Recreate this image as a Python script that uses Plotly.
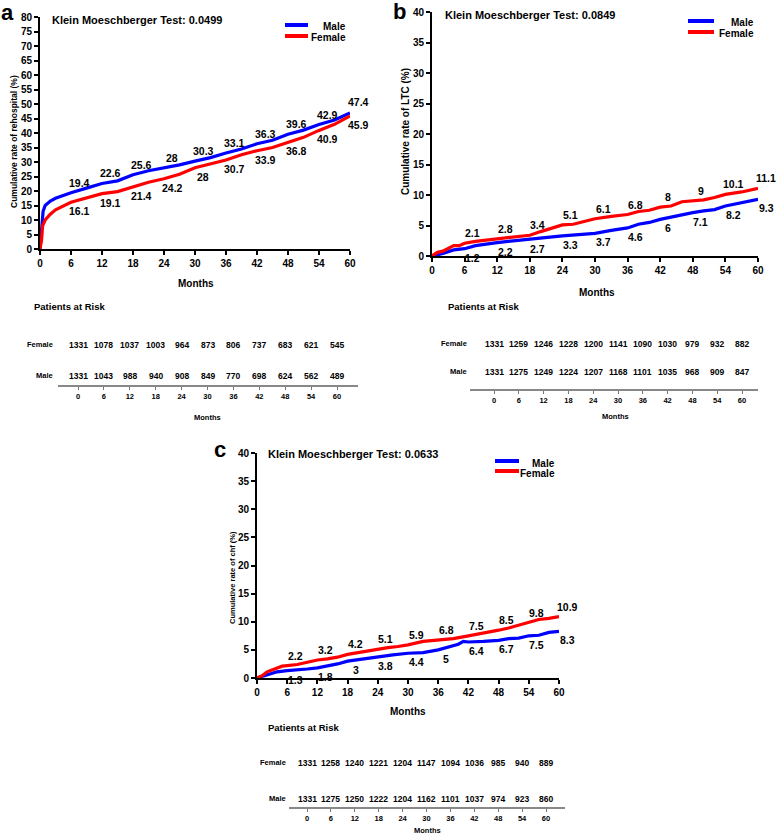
import plotly.graph_objects as go

W, H = 778, 835
BLUE = "#0000FF"
RED = "#FF0000"
FONT = "Liberation Sans"

# ---------------- data ----------------
tick_months = [0, 6, 12, 18, 24, 30, 36, 42, 48, 54, 60]
label_months = [6, 12, 18, 24, 30, 36, 42, 48, 54, 60]

# Panel a: rehospitalisation
a_male_t = [0, 0.3, 0.6, 1, 2, 3, 6, 9, 12, 15, 18, 21, 24, 27, 30, 33, 36, 39, 42, 45, 48, 51, 54, 57, 60]
a_male_y = [0, 8, 13, 15, 16.5, 17.5, 19.4, 21, 22.6, 23.5, 25.6, 27, 28, 29, 30.3, 31.5, 33.1, 34.5, 36.3, 37.5, 39.6, 41, 42.9, 44.5, 46.9]
a_female_t = [0, 0.3, 0.5, 1, 2, 3, 6, 9, 12, 15, 18, 21, 24, 27, 30, 33, 36, 39, 42, 45, 48, 51, 54, 57, 60]
a_female_y = [0, 3, 8, 10, 12, 13.5, 16.1, 17.5, 19.1, 19.8, 21.4, 23, 24.2, 25.8, 28, 29.3, 30.7, 32.5, 33.9, 35, 36.8, 38.5, 40.9, 43, 45.9]
a_male_lbl = [19.4, 22.6, 25.6, 28, 30.3, 33.1, 36.3, 39.6, 42.9, 47.4]
a_female_lbl = [16.1, 19.1, 21.4, 24.2, 28, 30.7, 33.9, 36.8, 40.9, 45.9]
a_risk_female = [1331, 1078, 1037, 1003, 964, 873, 806, 737, 683, 621, 545]
a_risk_male = [1331, 1043, 988, 940, 908, 849, 770, 698, 624, 562, 489]

# Panel b: LTC
b_female_t = [0, 1, 2, 3, 4, 5, 6, 8, 10, 12, 14, 16, 18, 20, 22, 24, 26, 28, 30, 33, 36, 38, 40, 42, 44, 46, 48, 50, 52, 54, 57, 60]
b_female_y = [0, 0.6, 0.8, 1.2, 1.7, 1.7, 2.1, 2.4, 2.6, 2.8, 3.1, 3.2, 3.4, 4.0, 4.5, 5.1, 5.2, 5.7, 6.1, 6.5, 6.8, 7.3, 7.5, 8.0, 8.2, 8.9, 9.0, 9.2, 9.6, 10.1, 10.5, 11.1]
b_male_t = [0, 2, 4, 6, 8, 10, 12, 14, 16, 18, 21, 24, 27, 30, 33, 36, 38, 40, 42, 44, 46, 48, 50, 52, 54, 57, 60]
b_male_y = [0, 0.4, 1.0, 1.2, 1.7, 2.0, 2.2, 2.4, 2.6, 2.7, 3.0, 3.3, 3.5, 3.7, 4.2, 4.6, 5.2, 5.5, 6.0, 6.4, 6.8, 7.1, 7.4, 7.6, 8.2, 8.8, 9.3]
b_female_lbl = [2.1, 2.8, 3.4, 5.1, 6.1, 6.8, 8, 9, 10.1, 11.1]
b_male_lbl = [1.2, 2.2, 2.7, 3.3, 3.7, 4.6, 6, 7.1, 8.2, 9.3]
b_risk_female = [1331, 1259, 1246, 1228, 1200, 1141, 1090, 1030, 979, 932, 882]
b_risk_male = [1331, 1275, 1249, 1224, 1207, 1168, 1101, 1035, 968, 909, 847]

# Panel c: CHF
c_female_t = [0, 1, 2, 3, 4, 5, 6, 8, 10, 12, 14, 16, 18, 20, 22, 24, 26, 28, 30, 33, 36, 39, 42, 44, 46, 48, 50, 52, 54, 56, 58, 60]
c_female_y = [0, 0.4, 1.1, 1.4, 1.8, 2.1, 2.2, 2.4, 2.8, 3.2, 3.4, 3.7, 4.2, 4.5, 4.9, 5.1, 5.4, 5.6, 5.9, 6.5, 6.8, 7.0, 7.5, 7.8, 8.1, 8.5, 8.9, 9.4, 9.8, 10.4, 10.6, 10.9]
c_male_t = [0, 2, 4, 6, 8, 10, 12, 14, 16, 18, 21, 24, 27, 30, 33, 36, 38, 40, 41, 42, 45, 48, 50, 52, 54, 56, 58, 60]
c_male_y = [0, 0.6, 1.1, 1.3, 1.4, 1.6, 1.8, 2.1, 2.5, 3.0, 3.4, 3.8, 4.1, 4.4, 4.5, 5.0, 5.5, 6.0, 6.5, 6.4, 6.5, 6.7, 7.0, 7.1, 7.5, 7.6, 8.1, 8.3]
c_female_lbl = [2.2, 3.2, 4.2, 5.1, 5.9, 6.8, 7.5, 8.5, 9.8, 10.9]
c_male_lbl = [1.3, 1.8, 3, 3.8, 4.4, 5, 6.4, 6.7, 7.5, 8.3]
c_risk_female = [1331, 1258, 1240, 1221, 1204, 1147, 1094, 1036, 985, 940, 889]
c_risk_male = [1331, 1275, 1250, 1222, 1204, 1162, 1101, 1037, 974, 923, 860]

titles = ["Klein Moeschberger Test: 0.0499", "Klein Moeschberger Test: 0.0849", "Klein Moeschberger Test: 0.0633"]
ytitles = ["Cumulative rate of rehospital (%)", "Cumulative rate of LTC (%)", "Cumulative rate of chf (%)"]
letters = ["a", "b", "c"]


def px(x):
    return x / W


def py(y):
    return 1 - y / H


def bf(size, color="black"):
    return dict(family=FONT, size=size, color=color, weight="bold")


fig = go.Figure()
annotations = []
shapes = []

panels = [
    dict(curves=[(a_male_t, a_male_y, BLUE), (a_female_t, a_female_y, RED)],
         upper=(a_male_lbl, BLUE), lower=(a_female_lbl, RED),
         dom=(40, 350, 17, 249), yrange=80, tickfs=10, ytfs=8.5, ytpos=(14, 142),
         letter=(7, 12), title=(50, 20), months=(196, 283),
         leg=(285, 308, 25, 36, 348),
         risk=(a_risk_female, a_risk_male), rline=(58, 358, 78, 337, 385),
         rrows=(345, 376), rlab_x=55, par=(32, 307), rmonths=(207, 417)),
    dict(curves=[(b_male_t, b_male_y, BLUE), (b_female_t, b_female_y, RED)],
         upper=(b_female_lbl, RED), lower=(b_male_lbl, BLUE),
         dom=(432, 758, 12, 256), yrange=40, tickfs=10, ytfs=10, ytpos=(406, 132),
         letter=(399, 11), title=(443, 15), months=(597, 292),
         leg=(688, 714, 21, 32, 756),
         risk=(b_risk_female, b_risk_male), rline=(470, 758, 494, 742, 389),
         rrows=(344, 372), rlab_x=469, par=(446, 307), rmonths=(615, 416)),
    dict(curves=[(c_male_t, c_male_y, BLUE), (c_female_t, c_female_y, RED)],
         upper=(c_female_lbl, RED), lower=(c_male_lbl, BLUE),
         dom=(257, 559, 453, 678), yrange=40, tickfs=10, ytfs=7.5, ytpos=(232, 578),
         letter=(220, 449), title=(266, 454), months=(408, 711),
         leg=(495, 519, 461, 471, 557),
         risk=(c_risk_female, c_risk_male), rline=(289, 565, 307, 546, 807),
         rrows=(763, 799), rlab_x=288, par=(266, 727), rmonths=(427, 830)),
]

layout_axes = {}
for i, p in enumerate(panels):
    n = i + 1
    xa = "x" if n == 1 else f"x{n}"
    ya = "y" if n == 1 else f"y{n}"
    for t, y, col in p["curves"]:
        fig.add_trace(go.Scatter(x=t, y=y, mode="lines", line=dict(color=col, width=3.2),
                                 xaxis=xa, yaxis=ya, showlegend=False, hoverinfo="skip"))
    x0, x1, y0, y1 = p["dom"]
    layout_axes["xaxis" if n == 1 else f"xaxis{n}"] = dict(
        domain=[px(x0), px(x1)], range=[0, 60], anchor=ya, tickvals=tick_months,
        ticks="outside", ticklen=4, tickwidth=2, tickcolor="black", automargin=False,
        showline=True, linewidth=2, linecolor="black", showgrid=False, zeroline=False,
        tickfont=bf(p["tickfs"]), fixedrange=True)
    layout_axes["yaxis" if n == 1 else f"yaxis{n}"] = dict(
        domain=[py(y1), py(y0)], range=[0, p["yrange"]], anchor=xa,
        tickvals=list(range(0, p["yrange"] + 1, 5)), automargin=False,
        ticks="outside", ticklen=4, tickwidth=2, tickcolor="black",
        showline=True, linewidth=2, linecolor="black", showgrid=False, zeroline=False,
        tickfont=bf(p["tickfs"]), fixedrange=True)

    # value labels
    lbl, col = p["upper"]
    for m, v in zip(label_months, lbl):
        annotations.append(dict(x=m, y=v, xref=xa, yref=ya, text=f"{v:g}", showarrow=False,
                                xshift=8, yshift=10, font=bf(10.5)))
    lbl, col = p["lower"]
    for m, v in zip(label_months, lbl):
        annotations.append(dict(x=m, y=v, xref=xa, yref=ya, text=f"{v:g}", showarrow=False,
                                xshift=8, yshift=-9, font=bf(10.5)))

    # texts
    annotations.append(dict(x=px(p["letter"][0]), y=py(p["letter"][1]), xref="paper", yref="paper",
                            text=letters[i], showarrow=False, font=bf(22), xanchor="center", yanchor="middle"))
    annotations.append(dict(x=px(p["title"][0]), y=py(p["title"][1]), xref="paper", yref="paper",
                            text=titles[i], showarrow=False, font=bf(11), xanchor="left", yanchor="middle"))
    annotations.append(dict(x=px(p["ytpos"][0]), y=py(p["ytpos"][1]), xref="paper", yref="paper",
                            text=ytitles[i], showarrow=False, font=bf(p["ytfs"]), textangle=-90,
                            xanchor="center", yanchor="middle"))
    annotations.append(dict(x=px(p["months"][0]), y=py(p["months"][1]), xref="paper", yref="paper",
                            text="Months", showarrow=False, font=bf(10), xanchor="center", yanchor="middle"))

    # legend
    lx0, lx1, ly_m, ly_f, ltx = p["leg"]
    for ly, col, name in [(ly_m, BLUE, "Male"), (ly_f, RED, "Female")]:
        shapes.append(dict(type="line", xref="paper", yref="paper", x0=px(lx0), x1=px(lx1),
                           y0=py(ly), y1=py(ly), line=dict(color=col, width=4)))
        annotations.append(dict(x=px(ltx), y=py(ly + 2), xref="paper", yref="paper", text=name,
                                showarrow=False, font=bf(10), xanchor="right", yanchor="middle"))

    # risk table axis
    rx0, rx1, t0, t60, lpy = p["rline"]
    ppm = (t60 - t0) / 60
    rn = n + 3
    layout_axes[f"xaxis{rn}"] = dict(
        domain=[px(rx0), px(rx1)], range=[(rx0 - t0) / ppm, (rx1 - t0) / ppm], anchor=f"y{rn}",
        tickvals=tick_months, ticks="outside", ticklen=3, tickwidth=1, tickcolor="#777",
        showline=True, linewidth=1.5, linecolor="#888", showgrid=False, zeroline=False,
        tickfont=bf(7.5), fixedrange=True, automargin=False)
    layout_axes[f"yaxis{rn}"] = dict(domain=[py(lpy), py(lpy - 4)], range=[0, 1], anchor=f"x{rn}",
                                     visible=False, fixedrange=True, automargin=False)
    fig.add_trace(go.Scatter(x=[0, 60], y=[-5, -5], mode="lines", line=dict(width=0),
                             xaxis=f"x{rn}", yaxis=f"y{rn}", showlegend=False, hoverinfo="skip"))
    rf, rm = p["risk"]
    for row_py, vals, name in [(p["rrows"][0], rf, "Female"), (p["rrows"][1], rm, "Male")]:
        for m, v in zip(tick_months, vals):
            annotations.append(dict(x=m, y=py(row_py), xref=f"x{rn}", yref="paper", text=str(v),
                                    showarrow=False, font=bf(8.5), xanchor="center", yanchor="middle"))
        annotations.append(dict(x=px(p["rlab_x"]), y=py(row_py - 1), xref="paper", yref="paper", text=name,
                                showarrow=False, font=bf(7.5), xanchor="right", yanchor="middle"))
    annotations.append(dict(x=px(p["par"][0]), y=py(p["par"][1]), xref="paper", yref="paper",
                            text="Patients at Risk", showarrow=False, font=bf(9.5),
                            xanchor="left", yanchor="middle"))
    annotations.append(dict(x=px(p["rmonths"][0]), y=py(p["rmonths"][1]), xref="paper", yref="paper",
                            text="Months", showarrow=False, font=bf(7.5), xanchor="center", yanchor="middle"))

fig.update_layout(
    template="none",
    width=W, height=H, margin=dict(l=0, r=0, t=0, b=0, pad=0, autoexpand=False),
    paper_bgcolor="white", plot_bgcolor="white",
    showlegend=False, annotations=annotations, shapes=shapes,
    font=dict(family=FONT),
    **layout_axes,
)

# the page's default 8 px body margin would offset the figure; remove it
fig.write_html("out.html", config={"displayModeBar": False},
               post_script="document.body.style.margin='0';")
